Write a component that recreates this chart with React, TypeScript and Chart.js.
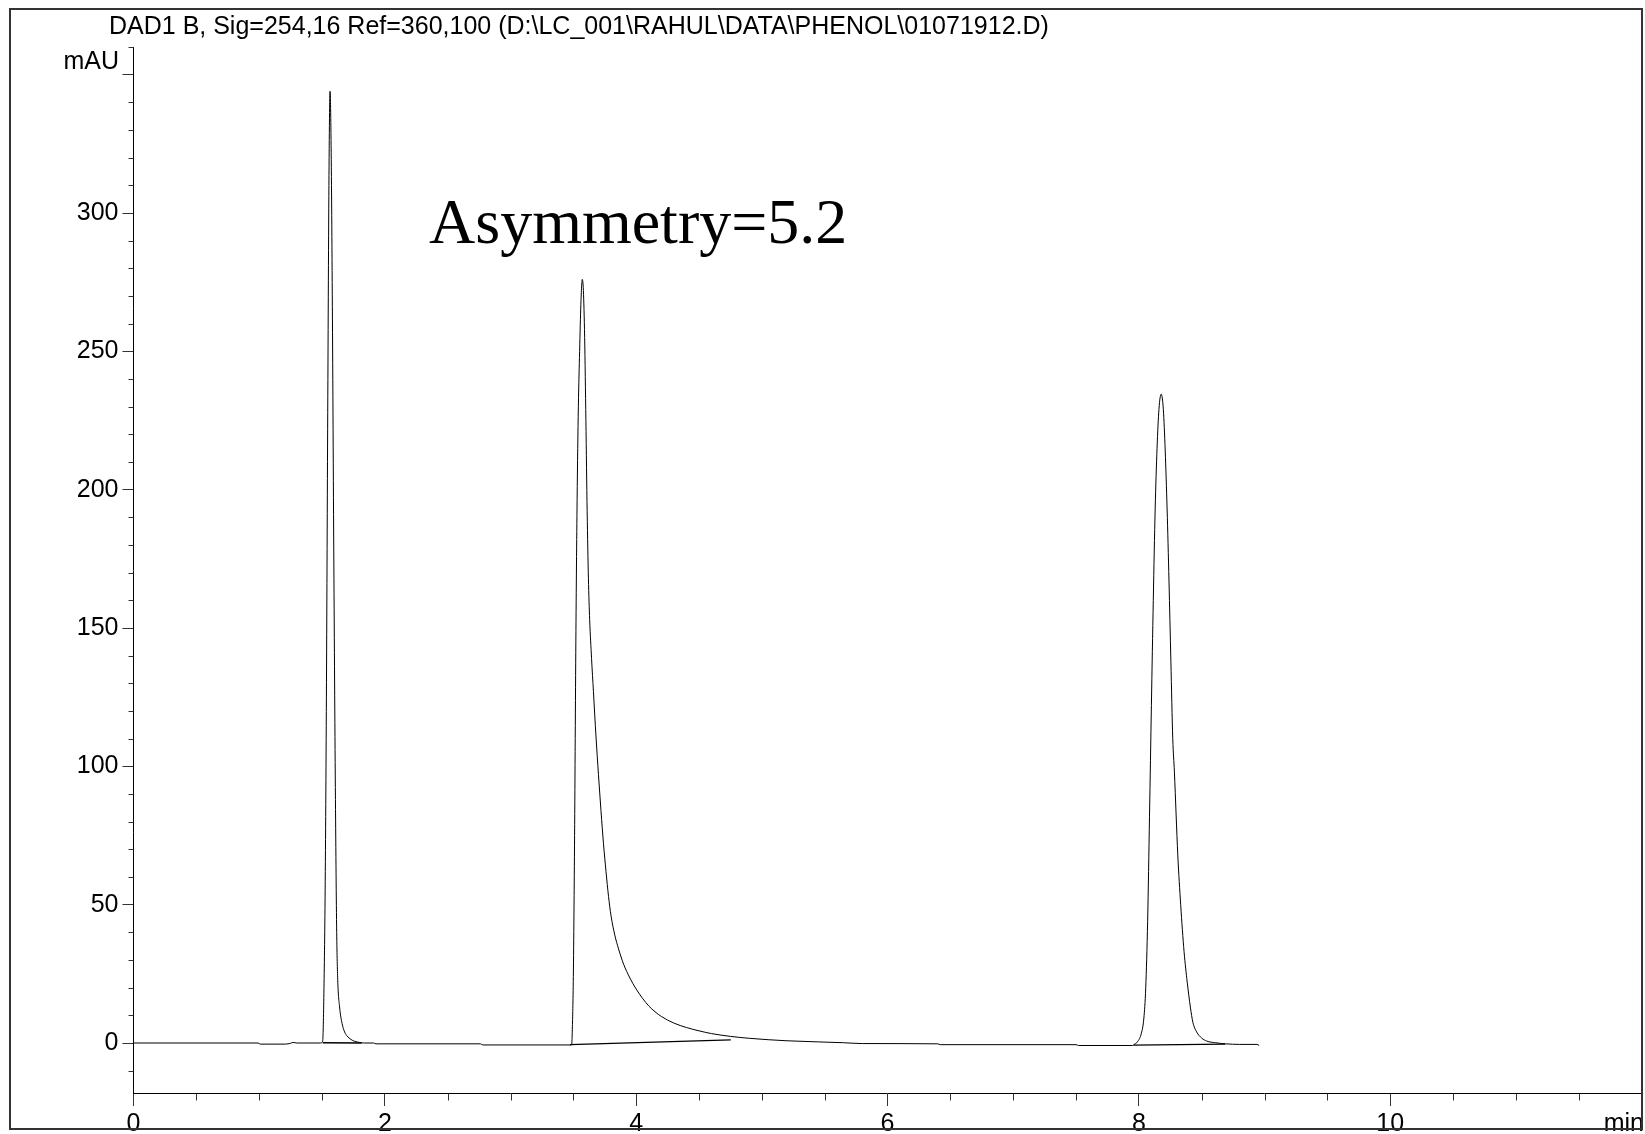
import React, { useEffect, useRef } from 'react';
import { Chart, registerables } from 'chart.js';

Chart.register(...registerables);

// Chromatogram signal (time in min, absorbance in mAU)
const signalTime = [
  0.0, 0.99, 1.01, 1.21, 1.25, 1.27, 1.3, 1.49,
  1.5, 1.506, 1.515, 1.525, 1.535, 1.545, 1.555, 1.564, 1.573, 1.583, 1.595, 1.607, 1.617, 1.625,
  1.64, 1.66, 1.68, 1.7, 1.73, 1.76, 1.8, 1.84, 1.91, 1.93, 2.76, 2.78, 3.48,
  3.487, 3.492, 3.5, 3.51, 3.52, 3.53, 3.54, 3.55, 3.56, 3.571, 3.58, 3.59, 3.6, 3.61, 3.62, 3.63,
  3.645, 3.66, 3.68, 3.7, 3.72, 3.74, 3.76, 3.78, 3.8, 3.83, 3.86, 3.9, 3.95, 4.0, 4.05, 4.1,
  4.15, 4.2, 4.3, 4.4, 4.5, 4.6, 4.75, 4.9, 5.05, 5.2, 5.45, 5.65, 5.8, 6.4, 6.42, 7.5, 7.52, 7.95,
  7.96, 7.99, 8.02, 8.04, 8.055, 8.07, 8.085, 8.1, 8.115, 8.13, 8.145, 8.16, 8.178, 8.195, 8.21,
  8.225, 8.24, 8.255, 8.27, 8.283, 8.31, 8.333, 8.36, 8.385, 8.41, 8.43, 8.46, 8.5, 8.54, 8.61,
  8.69, 8.8, 8.94, 8.957,
];
const signalValue = [
  0.0, 0.0, -0.4, -0.4, -0.1, 0.2, 0.0, 0.0,
  0.2, 1, 18, 55, 125, 222, 310, 344, 322, 262, 168, 88, 40, 23,
  13, 7, 4, 2.5, 1.3, 0.6, 0.2, 0.0, 0.0, -0.3, -0.3, -0.7, -0.7,
  -0.5, 5, 24, 75, 145, 196, 230, 250, 267, 276, 272, 255, 225, 192, 168, 153,
  139, 127, 111, 97, 84, 72, 62, 53, 46, 39, 34, 28.5, 23.5, 19.5, 16.2, 13.4,
  11.3, 9.6, 7.2, 5.6, 4.4, 3.4, 2.4, 1.7, 1.2, 0.8, 0.4, 0.1, -0.2, -0.3, -0.6, -0.6, -0.9, -0.9,
  -0.6, 0.5, 3.5, 9, 20, 44, 82, 122, 160, 193, 215, 229, 234.5, 229, 214,
  193, 167, 138, 110, 98, 68, 50, 33, 22, 13, 7.5, 4, 1.8, 0.7, 0.1,
  -0.3, -0.5, -0.5, -0.9,
];

// Integration baselines of the three peaks
const base1Time = [1.506, 1.816];
const base1Value = [0.1, 0.0];
const base2Time = [3.474, 4.753];
const base2Value = [-0.6, 1.1];
const base3Time = [7.957, 8.687];
const base3Value = [-0.8, -0.4];

// Axis ticks
const xMinorTicks = [0.5, 1, 1.5, 2.5, 3, 3.5, 4.5, 5, 5.5, 6.5, 7, 7.5, 8.5, 9, 9.5, 10.5, 11, 11.5];
const yMinorTicks = [-10, 10, 20, 30, 40, 60, 70, 80, 90, 110, 120, 130, 140, 160, 170, 180, 190,
  210, 220, 230, 240, 260, 270, 280, 290, 310, 320, 330, 340, 360];

const titleText = 'DAD1 B, Sig=254,16 Ref=360,100 (D:\\LC_001\\RAHUL\\DATA\\PHENOL\\01071912.D)';
const annotationText = 'Asymmetry=5.2';
const yUnit = 'mAU';
const xUnit = 'min';

const SANS = "'Liberation Sans', Arial, sans-serif";
const SERIF = "'Liberation Serif', 'Times New Roman', serif";

const toPoints = (t: number[], v: number[]) => t.map((x, i) => ({ x, y: v[i] }));

const decorPlugin = {
  id: 'decor',
  beforeDraw(chart: any) {
    const ctx = chart.ctx;
    ctx.save();
    ctx.fillStyle = '#fff';
    ctx.fillRect(0, 0, chart.width, chart.height);
    ctx.restore();
  },
  afterDraw(chart: any) {
    const ctx = chart.ctx;
    const xs = chart.scales.x;
    const ys = chart.scales.y;
    const area = chart.chartArea;
    ctx.save();
    // minor ticks
    ctx.strokeStyle = '#333';
    ctx.lineWidth = 1;
    ctx.beginPath();
    xMinorTicks.forEach((v) => {
      const px = Math.round(xs.getPixelForValue(v)) + 0.5;
      ctx.moveTo(px, area.bottom);
      ctx.lineTo(px, area.bottom + 7);
    });
    yMinorTicks.forEach((v) => {
      const py = Math.round(ys.getPixelForValue(v)) + 0.5;
      ctx.moveTo(area.left, py);
      ctx.lineTo(area.left - 5, py);
    });
    ctx.stroke();

    // texts
    ctx.fillStyle = '#000';
    ctx.textBaseline = 'alphabetic';
    ctx.font = `25px ${SANS}`;
    ctx.textAlign = 'left';
    ctx.fillText(titleText, 109, 34);
    ctx.textAlign = 'right';
    ctx.fillText(yUnit, 119, 69);
    ctx.fillText(xUnit, 1644, 1131);

    ctx.textAlign = 'left';
    ctx.font = `64px ${SERIF}`;
    ctx.fillText(annotationText, 429, 243);

    // frame
    ctx.strokeStyle = '#333';
    ctx.lineWidth = 2;
    ctx.strokeRect(10, 9, 1632, 1120);
    ctx.restore();
  },
};

export default function App() {
  const ref = useRef<HTMLCanvasElement>(null);
  useEffect(() => {
    document.body.style.margin = '0';
    const canvas = ref.current;
    if (!canvas) return;
    const tickFont = { family: SANS, size: 25 };
    const chart = new Chart(canvas, {
      type: 'line',
      data: {
        datasets: [
          {
            data: toPoints(signalTime, signalValue),
            borderColor: '#000',
            borderWidth: 1,
            pointRadius: 0,
            cubicInterpolationMode: 'monotone',
            fill: false,
          },
          {
            data: toPoints(base1Time, base1Value),
            borderColor: '#000',
            borderWidth: 1.6,
            pointRadius: 0,
            fill: false,
          },
          {
            data: toPoints(base2Time, base2Value),
            borderColor: '#000',
            borderWidth: 1.3,
            pointRadius: 0,
            fill: false,
          },
          {
            data: toPoints(base3Time, base3Value),
            borderColor: '#000',
            borderWidth: 1.3,
            pointRadius: 0,
            fill: false,
          },
        ],
      },
      options: {
        responsive: false,
        animation: false,
        devicePixelRatio: 1,
        parsing: false,
        layout: { padding: { left: 0, right: 3.5, top: 47, bottom: 0 } },
        plugins: {
          legend: { display: false },
          tooltip: { enabled: false },
          title: { display: false },
        },
        scales: {
          x: {
            type: 'linear',
            min: 0,
            max: 12,
            afterFit: (s: any) => {
              s.height = 40.5;
            },
            ticks: {
              stepSize: 2,
              includeBounds: false,
              autoSkip: false,
              maxRotation: 0,
              font: tickFont,
              color: '#000',
              padding: 3,
              callback: (v: any) => (v === 12 ? '' : String(v)),
            },
            grid: {
              drawOnChartArea: false,
              drawTicks: true,
              tickLength: 12.5,
              tickColor: '#333',
              tickWidth: 1,
            },
            border: { display: true, color: '#000', width: 1 },
          },
          y: {
            type: 'linear',
            min: -18.25,
            max: 360,
            afterFit: (s: any) => {
              s.width = 133.5;
            },
            ticks: {
              stepSize: 50,
              includeBounds: false,
              autoSkip: false,
              font: tickFont,
              color: '#000',
              padding: 4,
              callback: (v: any) => (v === 350 ? '' : String(v)),
            },
            grid: {
              drawOnChartArea: false,
              drawTicks: true,
              tickLength: 11,
              tickColor: '#333',
              tickWidth: 1,
            },
            border: { display: true, color: '#000', width: 1 },
          },
        },
      } as any,
      plugins: [decorPlugin],
    });
    return () => chart.destroy();
  }, []);
  return (
    <div style={{ width: 1645, height: 1134 }}>
      <canvas ref={ref} width={1645} height={1134} style={{ display: 'block' }} />
    </div>
  );
}
